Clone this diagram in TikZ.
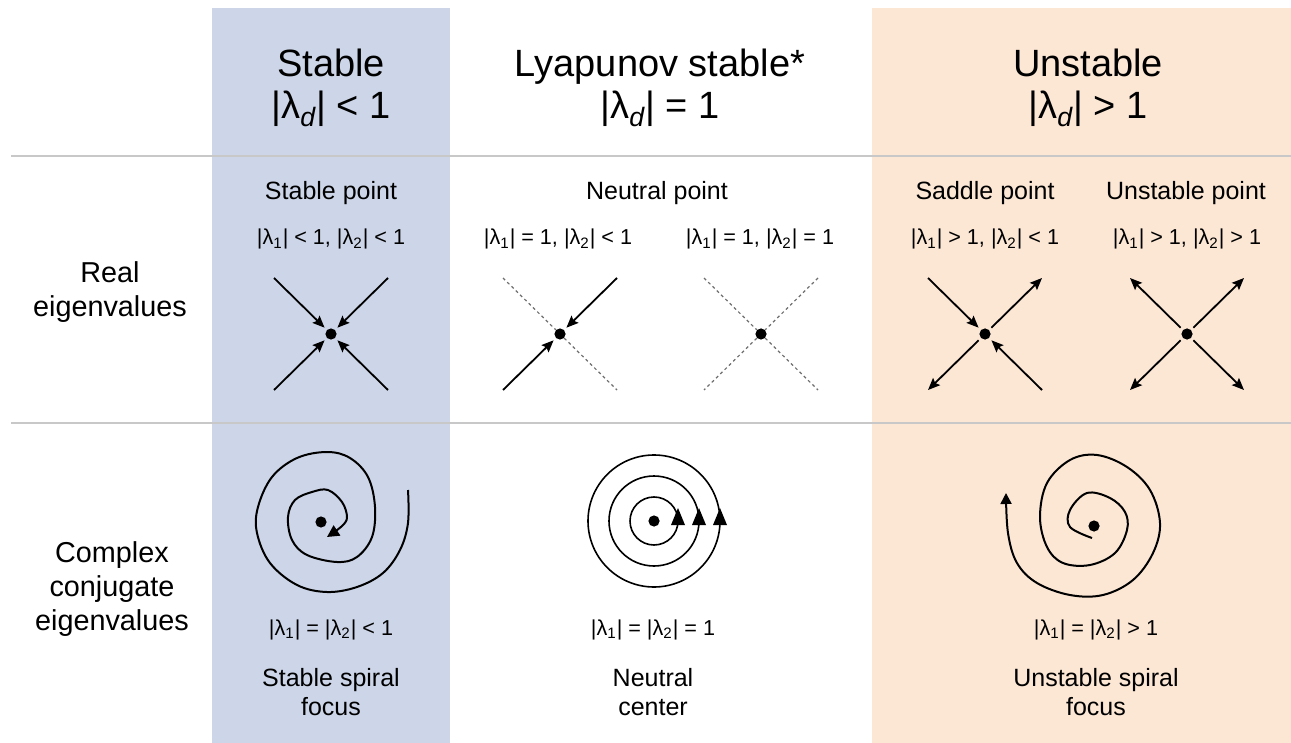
\documentclass[tikz,border=0pt]{standalone}
\usepackage{fontspec}
\setmainfont{Liberation Sans}
\usetikzlibrary{arrows.meta,positioning}
\definecolor{stablebg}{HTML}{CDD6E8}
\definecolor{unstablebg}{HTML}{FCE7D5}
\definecolor{rulegray}{HTML}{C8C8C8}
\definecolor{guidegray}{HTML}{6E6E6E}
\tikzset{
  head/.style={anchor=base, inner sep=0pt, font=\fontsize{19}{23}\selectfont},
  rowlabel/.style={align=center, inner sep=0pt, font=\fontsize{14.4}{17}\selectfont},
  kind/.style={anchor=base, inner sep=0pt, font=\fontsize{12.5}{15}\selectfont},
  cond/.style={anchor=base, inner sep=0pt, font=\fontsize{10.8}{13}\selectfont},
  fix/.style={circle, fill=black, inner sep=0pt, minimum size=5.6pt},
  flow/.style={-{Stealth[length=6pt,width=5pt,inset=1pt]}, line width=0.9pt, shorten >=1.5pt},
  outflow/.style={-{Stealth[length=6pt,width=5pt,inset=1pt]}, line width=0.9pt, shorten <=1.5pt},
  guideline/.style={draw=guidegray, line width=0.6pt, dash pattern=on 1.5pt off 1.5pt},
  orbit/.style={line width=0.8pt},
  spiral/.style={line width=1pt, line join=round}
}

\begin{document}
\begin{tikzpicture}[x=0.5pt, y=-0.5pt]
  \useasboundingbox (0,0) rectangle (1291,743);
  % column shading and row rules
  \fill[stablebg] (212,8) rectangle (450,743);
  \fill[unstablebg] (872,8) rectangle (1291,743);
  \draw[rulegray, line width=0.75pt] (11,156) -- (1291,156);
  \draw[rulegray, line width=0.75pt] (11,423) -- (1291,423);

  % column heads
  \node[head] (hstable) at (331,77) {Stable};
  \node[head] (hstablec) at (331,119) {|λ\textsubscript{\itshape d}| < 1};
  \node[head] (hlyap) at (660,77) {Lyapunov stable*};
  \node[head] (hlyapc) at (660,119) {|λ\textsubscript{\itshape d}| = 1};
  \node[head] (hunst) at (1088,77) {Unstable};
  \node[head] (hunstc) at (1088,119) {|λ\textsubscript{\itshape d}| > 1};

  % row heads
  \node[rowlabel] (rreal) at (110,292) {Real\\eigenvalues};
  \node[rowlabel] (rcplx) at (112,589) {Complex\\conjugate\\eigenvalues};

  % real eigenvalues: names and conditions
  \node[kind] (kst) at (331,200) {Stable point};
  \node[kind] (knt) at (657,200) {Neutral point};
  \node[kind] (ksd) at (985,200) {Saddle point};
  \node[kind] (kun) at (1186,200) {Unstable point};
  \node[cond] (cst) at (331,245) {|λ\textsubscript{1}| < 1, |λ\textsubscript{2}| < 1};
  \node[cond] (cnA) at (558,245) {|λ\textsubscript{1}| = 1, |λ\textsubscript{2}| < 1};
  \node[cond] (cnB) at (760,245) {|λ\textsubscript{1}| = 1, |λ\textsubscript{2}| = 1};
  \node[cond] (csd) at (985,245) {|λ\textsubscript{1}| > 1, |λ\textsubscript{2}| < 1};
  \node[cond] (cun) at (1187,245) {|λ\textsubscript{1}| > 1, |λ\textsubscript{2}| > 1};

  % fixed points with their four directions
  \foreach \p/\x in {st/331, nA/560, nB/761, sd/985, un/1187} {
    \node[fix] (\p) at (\x,334) {};
    \coordinate[above left=28pt and 28.5pt of \p.center] (\p-nw);
    \coordinate[above right=28pt and 28.5pt of \p.center] (\p-ne);
    \coordinate[below left=28pt and 28.5pt of \p.center] (\p-sw);
    \coordinate[below right=28pt and 28.5pt of \p.center] (\p-se);
  }
  \draw[flow] (st-nw) -- (st);
  \draw[flow] (st-ne) -- (st);
  \draw[flow] (st-sw) -- (st);
  \draw[flow] (st-se) -- (st);

  \draw[guideline] (nA-nw) -- (nA);
  \draw[guideline] (nA) -- (nA-se);
  \draw[flow] (nA-ne) -- (nA);
  \draw[flow] (nA-sw) -- (nA);

  \draw[guideline] (nB-nw) -- (nB);
  \draw[guideline] (nB) -- (nB-se);
  \draw[guideline] (nB-ne) -- (nB);
  \draw[guideline] (nB) -- (nB-sw);

  \draw[flow] (sd-nw) -- (sd);
  \draw[flow] (sd-se) -- (sd);
  \draw[outflow] (sd) -- (sd-ne);
  \draw[outflow] (sd) -- (sd-sw);

  \draw[outflow] (un) -- (un-nw);
  \draw[outflow] (un) -- (un-ne);
  \draw[outflow] (un) -- (un-sw);
  \draw[outflow] (un) -- (un-se);

  % complex eigenvalues
  \node[fix] (fst) at (321,522) {};
  \draw[spiral, -{Triangle[length=6pt,width=6pt]}] plot[smooth, tension=0.6] coordinates {
    (408,490) (408,523) (400,550) (383,573) (357,587) (327,592) (297,585)
    (270,563) (257,533) (258,507) (272,477) (297,458) (327,452) (350,458)
    (368,477) (375,507) (372,537) (357,557) (337,562) (307,555) (292,540)
    (288,517) (295,500) (312,492) (328,490) (342,502) (347,517) (342,526)
    (327,537)};

  \node[fix] (fnt) at (654,521) {};
  \foreach \r in {24,45,66} {
    \draw[orbit] (fnt) circle[radius=\r];
    \fill (654+\r-7,525) -- (654+\r+7,525) -- (654+\r,508) -- cycle;
  }

  \node[fix] (fun) at (1094,526) {};
  \draw[spiral, -{Triangle[length=5.5pt,width=5.5pt]}] plot[smooth, tension=0.6] coordinates {
    (1092,538) (1070,527) (1070,510) (1087,493) (1110,498) (1125,512)
    (1127,530) (1115,553) (1090,565) (1063,563) (1047,547) (1040,517)
    (1047,483) (1070,460) (1097,455) (1127,467) (1150,490) (1160,523)
    (1153,553) (1133,580) (1103,595) (1070,595) (1037,583) (1017,563)
    (1008,533) (1006,493)};

  \node[cond] (cfst) at (331,635) {|λ\textsubscript{1}| = |λ\textsubscript{2}| < 1};
  \node[cond] (cfnt) at (653,635) {|λ\textsubscript{1}| = |λ\textsubscript{2}| = 1};
  \node[cond] (cfun) at (1096,635) {|λ\textsubscript{1}| = |λ\textsubscript{2}| > 1};
  \node[kind] (kfst) at (331,686) {Stable spiral};
  \node[kind] (kfst2) at (331,715) {focus};
  \node[kind] (kfnt) at (653,686) {Neutral};
  \node[kind] (kfnt2) at (653,715) {center};
  \node[kind] (kfun) at (1096,686) {Unstable spiral};
  \node[kind] (kfun2) at (1096,715) {focus};
\end{tikzpicture}
\end{document}
